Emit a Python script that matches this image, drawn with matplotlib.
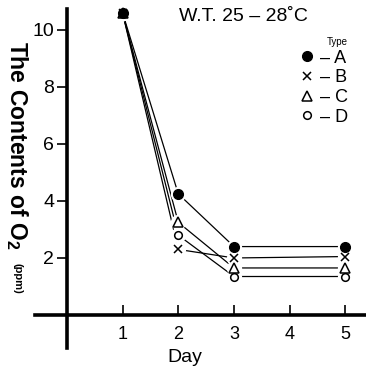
import matplotlib
matplotlib.use("Agg")
import matplotlib.pyplot as plt
from matplotlib.lines import Line2D

days = [1, 2, 3, 5]
type_a = [10.6, 4.25, 2.4, 2.4]
type_b = [10.6, 2.3, 2.0, 2.05]
type_c = [10.6, 3.25, 1.65, 1.65]
type_d = [10.6, 2.8, 1.35, 1.35]
series_names = ["A", "B", "C", "D"]
x_ticks = [1, 2, 3, 4, 5]
y_ticks = [2, 4, 6, 8, 10]

plt.rcParams["font.family"] = ["Liberation Sans", "DejaVu Sans"]

fig = plt.figure(figsize=(3.66, 3.72), dpi=100)
ax = fig.add_axes([0, 0, 1, 1])
ax.set_xlim(-1.20, 5.37)
ax.set_ylim(-2.0, 11.05)

styles = [
    dict(marker="o", ms=7, mfc="black", mec="black"),
    dict(marker="x", ms=5.5, mfc="black", mec="black", mew=1.1),
    dict(marker="^", ms=6.5, mfc="white", mec="black", mew=1.1),
    dict(marker="o", ms=5.5, mfc="white", mec="black", mew=1.1),
]
all_vals = [type_a, type_b, type_c, type_d]
for vals in all_vals:
    ax.plot(days, vals, color="black", lw=0.9, zorder=1)
    ax.plot(days, vals, ls="none", marker="o", ms=10, color="white", zorder=2)
# reverse so the filled dot of A ends on top at day 1
for vals, st in reversed(list(zip(all_vals, styles))):
    ax.plot(days, vals, ls="none", zorder=3, **st)

for side in ["top", "right"]:
    ax.spines[side].set_visible(False)
ax.spines["left"].set_position(("data", 0))
ax.spines["bottom"].set_position(("data", 0))
ax.spines["left"].set_bounds(-1.16, 10.75)
ax.spines["bottom"].set_bounds(-0.57, 5.4)
ax.spines["left"].set_linewidth(2.6)
ax.spines["bottom"].set_linewidth(2.6)

ax.set_xticks(x_ticks)
ax.set_yticks(y_ticks)
ax.tick_params(axis="x", direction="in", length=7, width=1.2, labelsize=13, pad=8)
ax.tick_params(axis="y", direction="out", length=7, width=1.2, labelsize=14, pad=2)

fig.text(0.046, 0.89, r"The Contents of O$_{\mathregular{2}}$", rotation=270,
         ha="center", va="top", fontsize=16.5, fontweight="bold")
fig.text(0.048, 0.293, "(ppm)", rotation=270, ha="center", va="top", fontsize=8,
         fontweight="bold")
fig.text(0.505, 0.04, "Day", ha="center", va="center", fontsize=14)
fig.text(0.665, 0.955, "W.T. 25 \u2013 28\u02daC", ha="center", va="center", fontsize=14)

handles = [Line2D([], [], ls="none", **st) for st in styles]
leg = ax.legend(handles, ["\u2013 " + n for n in series_names],
                title="Type", frameon=False, loc="upper right",
                bbox_to_anchor=(0.975, 0.925), handlelength=0.8,
                handletextpad=0.3, labelspacing=0.15, fontsize=13,
                title_fontsize=7, borderpad=0)
leg._legend_box.align = "right"

fig.savefig("out.png", dpi=100)
